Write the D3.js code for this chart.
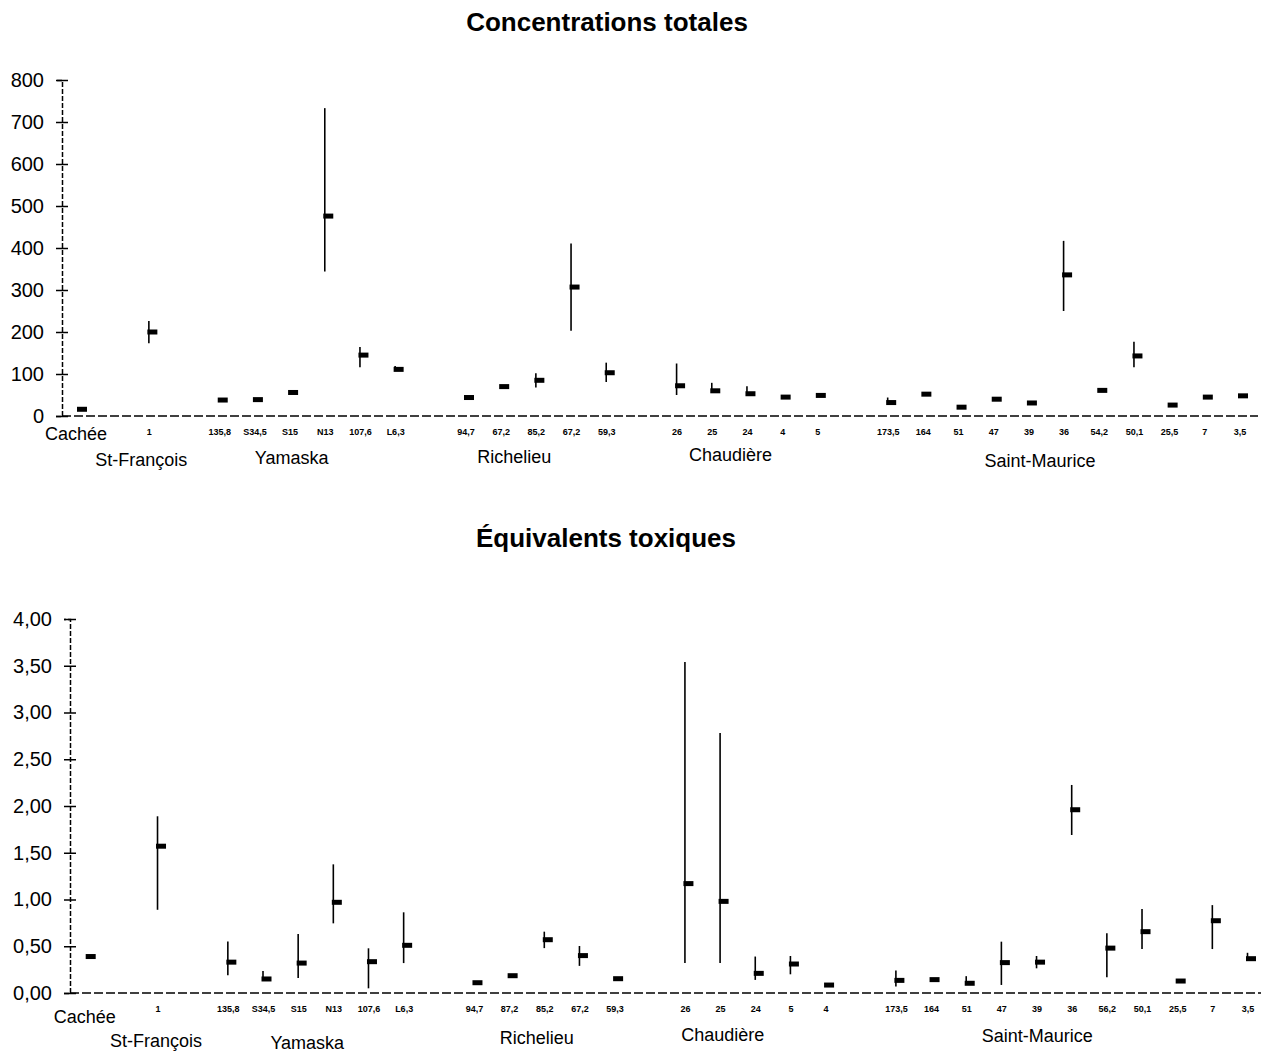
<!DOCTYPE html>
<html><head><meta charset="utf-8">
<script src="https://cdn.jsdelivr.net/npm/d3@7"></script>
<style>
body{margin:0;background:#fff}
svg{display:block}
text{font-family:"Liberation Sans",Arial,Helvetica,sans-serif;fill:#000}
</style>
</head><body>
<svg id="c" width="1261" height="1055"></svg>
<script>
// ---------- DATA ----------
const rivers = ["Cachée", "St-François", "Yamaska", "Richelieu", "Chaudière", "Saint-Maurice"];
// river index of each site (same order in both panels)
const siteRiver = [0, 1, 2, 2, 2, 2, 2, 2, 3, 3, 3, 3, 3, 4, 4, 4, 4, 4, 5, 5, 5, 5, 5, 5, 5, 5, 5, 5, 5];

// Panel 1 : Concentrations totales
const sitesTotal = ["Cachée", "1", "135,8", "S34,5", "S15", "N13", "107,6", "L6,3",
  "94,7", "67,2", "85,2", "67,2", "59,3",
  "26", "25", "24", "4", "5",
  "173,5", "164", "51", "47", "39", "36", "54,2", "50,1", "25,5", "7", "3,5"];
const meanTotal = [16, 200, 38, 39, 56, 476, 145, 111,
  44, 70, 85, 307, 103,
  72, 60, 53, 45, 49,
  32, 52, 21, 40, 31, 336, 61, 143, 26, 45, 48];
const minTotal = [null, 173, null, null, null, 344, 116, null,
  null, null, 68, 203, 81,
  50, null, null, null, null,
  null, null, null, null, null, 250, null, 116, null, null, null];
const maxTotal = [null, 226, null, null, null, 733, 164, 119,
  null, null, 102, 411, 127,
  125, 79, 71, null, null,
  44, null, null, null, null, 417, null, 177, null, null, null];
const ticksTotal = [0, 100, 200, 300, 400, 500, 600, 700, 800];

// Panel 2 : Équivalents toxiques
const sitesTEQ = ["Cachée", "1", "135,8", "S34,5", "S15", "N13", "107,6", "L6,3",
  "94,7", "87,2", "85,2", "67,2", "59,3",
  "26", "25", "24", "5", "4",
  "173,5", "164", "51", "47", "39", "36", "56,2", "50,1", "25,5", "7", "3,5"];
const meanTEQ = [0.39, 1.57, 0.33, 0.15, 0.32, 0.97, 0.335, 0.51,
  0.11, 0.185, 0.57, 0.40, 0.153,
  1.17, 0.98, 0.21, 0.31, 0.085,
  0.135, 0.143, 0.104, 0.325, 0.33, 1.96, 0.48, 0.656, 0.128, 0.773, 0.367];
const minTEQ = [null, 0.89, 0.19, null, 0.16, 0.745, 0.05, 0.32,
  null, null, 0.48, 0.29, null,
  0.32, 0.32, 0.14, 0.20, null,
  0.07, null, null, 0.086, 0.264, 1.69, 0.168, 0.47, null, 0.47, null];
const maxTEQ = [null, 1.89, 0.55, 0.235, 0.63, 1.376, 0.478, 0.863,
  null, null, 0.656, 0.503, null,
  3.54, 2.78, 0.39, 0.396, null,
  0.24, null, 0.18, 0.549, 0.396, 2.225, 0.638, 0.898, null, 0.94, 0.43];
const ticksTEQ = [0, 0.5, 1, 1.5, 2, 2.5, 3, 3.5, 4];

// ---------- LAYOUT ----------
const svg = d3.select("#c");
const slotOf = siteRiver.map((r, i) => i + r); // one empty slot between rivers
const nSlots = d3.max(slotOf);

function drawPanel(cfg) {
  const g = svg.append("g");
  const x = d3.scaleLinear().domain([0, nSlots]).range(cfg.xRange);
  const y = d3.scaleLinear().domain(cfg.yDomain).range(cfg.yRange);

  // title
  g.append("text").attr("x", cfg.titleX).attr("y", cfg.titleY)
    .attr("text-anchor", "middle").style("font-size", "26px").style("font-weight", "bold")
    .text(cfg.title);

  // y axis
  const ax = d3.axisLeft(y).tickValues(cfg.ticks).tickFormat(cfg.fmt).tickSize(6).tickPadding(12);
  const ag = g.append("g").attr("transform", `translate(${cfg.axisX},0)`).call(ax);
  ag.select(".domain").attr("stroke", "#000").attr("stroke-width", 1.5).attr("stroke-dasharray", "5,2");
  ag.selectAll(".tick line").attr("x1", -6).attr("x2", 6).attr("stroke", "#000").attr("stroke-width", 1.5);
  ag.selectAll(".tick text").style("font-size", cfg.tickFont).style("font-family", '"Liberation Sans",Arial,sans-serif').attr("fill", "#000");

  // x axis line
  g.append("line").attr("x1", cfg.axisX).attr("x2", cfg.xEnd)
    .attr("y1", y(0)).attr("y2", y(0))
    .attr("stroke", "#000").attr("stroke-width", 1.4).attr("stroke-dasharray", "9,3");

  const idx = d3.range(cfg.sites.length);
  // ranges
  g.selectAll("line.rng").data(idx.filter(i => cfg.min[i] != null || cfg.max[i] != null)).join("line")
    .attr("class", "rng")
    .attr("x1", i => x(slotOf[i]) + 0.5).attr("x2", i => x(slotOf[i]) + 0.5)
    .attr("y1", i => y(cfg.max[i] != null ? cfg.max[i] : cfg.mean[i]))
    .attr("y2", i => y(cfg.min[i] != null ? cfg.min[i] : cfg.mean[i]))
    .attr("stroke", "#000").attr("stroke-width", 1.6);
  // means
  g.selectAll("rect.mean").data(idx).join("rect").attr("class", "mean")
    .attr("x", i => x(slotOf[i]) - 1).attr("width", 10)
    .attr("y", i => y(cfg.mean[i]) - 2.5).attr("height", 5)
    .attr("fill", "#000");

  // site labels
  g.selectAll("text.site").data(idx.filter(i => siteRiver[i] !== 0)).join("text").attr("class", "site")
    .attr("x", i => x(slotOf[i]) + 1).attr("y", cfg.siteY)
    .attr("text-anchor", "middle").style("font-size", "9px").style("font-weight", "bold")
    .text(i => cfg.sites[i]);
  // Cachée label
  g.append("text").attr("x", x(0) - 2).attr("y", cfg.cacheeY)
    .attr("text-anchor", "middle").style("font-size", "18px").text(cfg.sites[0]);

  // river labels
  rivers.slice(1).forEach((r, k) => {
    const ri = k + 1;
    const sl = slotOf.filter((s, i) => siteRiver[i] === ri);
    const cx = (x(d3.min(sl)) + x(d3.max(sl))) / 2 + cfg.riverShift[k];
    g.append("text").attr("x", cx).attr("y", cfg.riverY[k])
      .attr("text-anchor", "middle").style("font-size", "18px").text(r);
  });
}

drawPanel({
  title: "Concentrations totales", titleX: 607, titleY: 31,
  sites: sitesTotal, mean: meanTotal, min: minTotal, max: maxTotal,
  ticks: ticksTotal, fmt: d3.format("d"), tickFont: "20px",
  yDomain: [0, 800], yRange: [416, 80], xRange: [78, 1239],
  axisX: 62, xEnd: 1258, siteY: 435, cacheeY: 440,
  riverShift: [-7, -15, -21, -16, -23], riverY: [466, 464, 463, 461, 467]
});

drawPanel({
  title: "Équivalents toxiques", titleX: 606, titleY: 547,
  sites: sitesTEQ, mean: meanTEQ, min: minTEQ, max: maxTEQ,
  ticks: ticksTEQ, fmt: v => d3.format(".2f")(v).replace(".", ","), tickFont: "20px",
  yDomain: [0, 4], yRange: [993, 619], xRange: [86.7, 1247],
  axisX: 70, xEnd: 1261, siteY: 1012, cacheeY: 1023,
  riverShift: [-1, -8, -7, -32, -34], riverY: [1047, 1049, 1044, 1041, 1042]
});
</script>
</body></html>
